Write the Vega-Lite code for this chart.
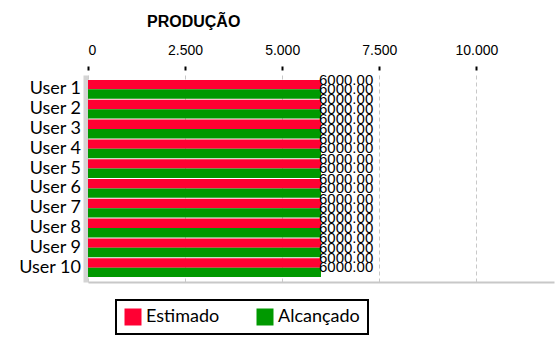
{
  "$schema": "https://vega.github.io/schema/vega-lite/v6.json",
  "autosize": "none",
  "width": 466,
  "height": 207,
  "padding": {"left": 88, "top": 75, "right": 6, "bottom": 70},
  "background": "white",
  "title": {"text": "PRODUÇÃO", "anchor": "start", "frame": "group", "dx": 59, "font": "Liberation Sans", "fontSize": 16, "fontWeight": "bold", "color": "black", "offset": 13},
  "config": {"view": {"stroke": null}},
  "data": {"values": [
    {"user": "User 1", "serie": "Estimado", "valor": 6000},
    {"user": "User 1", "serie": "Alcançado", "valor": 6000},
    {"user": "User 2", "serie": "Estimado", "valor": 6000},
    {"user": "User 2", "serie": "Alcançado", "valor": 6000},
    {"user": "User 3", "serie": "Estimado", "valor": 6000},
    {"user": "User 3", "serie": "Alcançado", "valor": 6000},
    {"user": "User 4", "serie": "Estimado", "valor": 6000},
    {"user": "User 4", "serie": "Alcançado", "valor": 6000},
    {"user": "User 5", "serie": "Estimado", "valor": 6000},
    {"user": "User 5", "serie": "Alcançado", "valor": 6000},
    {"user": "User 6", "serie": "Estimado", "valor": 6000},
    {"user": "User 6", "serie": "Alcançado", "valor": 6000},
    {"user": "User 7", "serie": "Estimado", "valor": 6000},
    {"user": "User 7", "serie": "Alcançado", "valor": 6000},
    {"user": "User 8", "serie": "Estimado", "valor": 6000},
    {"user": "User 8", "serie": "Alcançado", "valor": 6000},
    {"user": "User 9", "serie": "Estimado", "valor": 6000},
    {"user": "User 9", "serie": "Alcançado", "valor": 6000},
    {"user": "User 10", "serie": "Estimado", "valor": 6000},
    {"user": "User 10", "serie": "Alcançado", "valor": 6000}
  ]},
  "encoding": {
    "y": {"field": "user", "type": "nominal", "sort": null, "title": null,
      "scale": {"paddingInner": 0.05, "paddingOuter": 0.25},
      "axis": {"labelFont": "Lato", "labelFontSize": 18, "labelColor": "black", "ticks": false, "domainColor": "#d4d4d4", "domainWidth": 5, "offset": 2.5, "labelPadding": 5, "grid": false}},
    "yOffset": {"field": "serie", "type": "nominal", "sort": ["Estimado", "Alcançado"], "scale": {"paddingInner": 0}}
  },
  "layer": [
    {
      "mark": {"type": "bar"},
      "encoding": {
        "x": {"field": "valor", "type": "quantitative", "scale": {"domain": [0, 12000]}, "title": null,
          "axis": {"orient": "top", "values": [0, 2500, 5000, 7500, 10000], "labelExpr": "replace(format(datum.value, ',.0f'), ',', '.')", "labelFont": "Liberation Sans", "labelFontSize": 14, "labelColor": "black", "tickColor": "black", "tickWidth": 2, "tickSize": 4, "offset": 5, "domain": false, "labelPadding": 9, "grid": true, "gridDash": [4, 3], "gridColor": "#c8c8c8", "gridWidth": 1}},
        "color": {"field": "serie", "type": "nominal", "sort": ["Estimado", "Alcançado"],
          "scale": {"domain": ["Estimado", "Alcançado"], "range": ["#ff0033", "#009900"]},
          "legend": {"orient": "none", "legendX": 28, "legendY": 225, "direction": "horizontal", "title": null, "symbolType": "square", "symbolSize": 289, "symbolStrokeWidth": 0, "labelFont": "Lato", "labelFontSize": 18, "labelColor": "black", "strokeColor": "black", "padding": 8, "columnPadding": 36, "labelOffset": 4, "symbolOpacity": 1, "fillColor": "white",
            "encode": {"legend": {"update": {"strokeWidth": {"value": 2}}}}}}
      }
    },
    {
      "mark": {"type": "text", "align": "left", "baseline": "middle", "dx": -2, "dy": -5, "font": "Liberation Sans", "fontSize": 15, "color": "black"},
      "encoding": {
        "x": {"field": "valor", "type": "quantitative", "scale": {"domain": [0, 12000]}, "title": null,
          "axis": {"orient": "bottom", "labels": false, "ticks": false, "grid": false, "domainColor": "#c8c8c8", "domainWidth": 2}},
        "text": {"field": "valor", "type": "quantitative", "format": ".2f"}
      }
    }
  ],
  "resolve": {"axis": {"x": "independent"}}
}
